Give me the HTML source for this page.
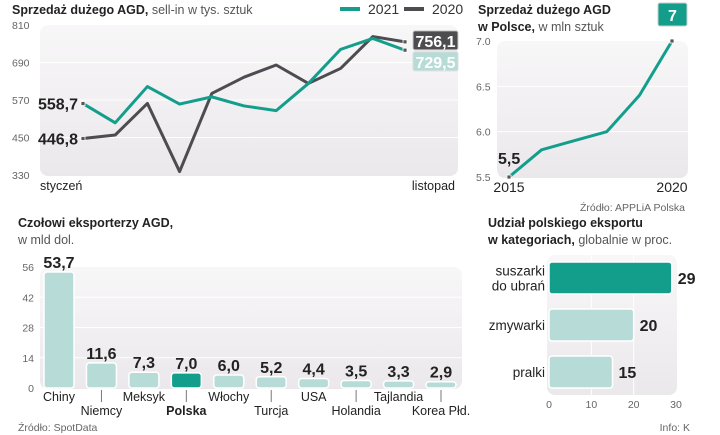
<!DOCTYPE html>
<html><head><meta charset="utf-8"><style>
body{margin:0;background:#fff;}
svg{display:block;font-family:"Liberation Sans Narrow","Liberation Sans",sans-serif;}
.t{fill:#666;font-size:10.5px;}
.h{fill:#222;font-size:12.5px;font-weight:bold;}
.s{fill:#555;font-size:12.5px;font-weight:normal;}
.lab{fill:#222;font-size:12.5px;}
.v{fill:#222;font-size:16px;font-weight:bold;}
</style></head><body>
<svg id="c" width="720" height="435" viewBox="0 0 720 435">
<defs>
<linearGradient id="bg" x1="0" y1="0" x2="0" y2="1"><stop offset="0" stop-color="#f8f7f8"/><stop offset="1" stop-color="#ebe8eb"/></linearGradient>
</defs>
<text x="12" y="14" class="h">Sprzedaż dużego AGD,<tspan class="s"> sell-in w tys. sztuk</tspan></text>
<line x1="340" y1="9" x2="360" y2="9" stroke="#139e8c" stroke-width="4"/>
<text x="368" y="14" style="font-size:14px;fill:#333">2021</text>
<line x1="404" y1="9" x2="424" y2="9" stroke="#4d4c50" stroke-width="4"/>
<text x="432" y="14" style="font-size:14px;fill:#333">2020</text>
<rect x="40" y="25" width="418" height="151" rx="8" fill="url(#bg)"/>
<g id="g1"></g>
<text x="40" y="190" class="lab">styczeń</text>
<text x="455" y="190" class="lab" text-anchor="end">listopad</text>
<text x="478" y="14" class="h">Sprzedaż dużego AGD</text>
<text x="478" y="31" class="h">w Polsce,<tspan class="s"> w mln sztuk</tspan></text>
<rect x="497" y="41" width="191" height="137" rx="8" fill="url(#bg)"/>
<g id="g2"></g>
<text x="509" y="192" class="lab" text-anchor="middle" style="font-size:14px">2015</text>
<text x="672" y="192" class="lab" text-anchor="middle" style="font-size:14px">2020</text>
<text x="685" y="211" class="t" text-anchor="end">Źródło: APPLiA Polska</text>
<text x="18" y="227" class="h">Czołowi eksporterzy AGD,</text>
<text x="18" y="244" class="s">w mld dol.</text>
<rect x="40" y="267" width="422" height="122" rx="8" fill="url(#bg)"/>
<g id="g3"></g>
<text x="18" y="431" class="t">Źródło: SpotData</text>
<text x="488" y="227" class="h">Udział polskiego eksportu</text>
<text x="488" y="244" class="h">w kategoriach,<tspan class="s"> globalnie w proc.</tspan></text>
<rect x="547" y="255" width="130" height="140" rx="8" fill="url(#bg)"/>
<g id="g4"></g>
<text x="690" y="431" class="t" text-anchor="end">Info: K</text>
</svg>
<script>
const months=["I","II","III","IV","V","VI","VII","VIII","IX","X","XI"];
const s2021=[558.7,497,613,557,580,551,536,623,732,767,729.5];
const s2020=[446.8,458,559,341,591,643,682,623,671,773,756.1];
const ticks1=[330,450,570,690,810];
const years=[2015,2016,2017,2018,2019,2020];
const sales=[5.5,5.8,5.9,6.0,6.4,7.0];
const ticks2=[5.5,6.0,6.5,7.0];
const countries=["Chiny","Niemcy","Meksyk","Polska","Włochy","Turcja","USA","Holandia","Tajlandia","Korea Płd."];
const exportsVal=[53.7,11.6,7.3,7.0,6.0,5.2,4.4,3.5,3.3,2.9];
const ticks3=[0,14,28,42,56];
const cats=[["suszarki","do ubrań"],["zmywarki"],["pralki"]];
const shares=[29,20,15];
const ticks4=[0,10,20,30];

const NS="http://www.w3.org/2000/svg";
function mk(p,tag,a,txt){const e=document.createElementNS(NS,tag);for(const k in a)e.setAttribute(k,a[k]);if(txt!==undefined)e.textContent=txt;p.appendChild(e);return e;}
const fmt=v=>String(v).replace('.',',');

(function(){
const g=document.getElementById('g1');
const y=v=>175-(v-330)/(810-330)*150;
const x=i=>83+i*(405-83)/(months.length-1);
ticks1.forEach(t=>{
 if(t>330&&t<810){const l=mk(g,'line',{x1:40,x2:458,y1:y(t),y2:y(t),stroke:'#fff','stroke-width':1});}
 const e=mk(g,'text',{x:12,y:y(t)+4,class:'t'},t);
});
[[s2020,'#4d4c50','line-2020'],[s2021,'#139e8c','line-2021']].forEach(([d,c,n])=>{
 const p=mk(g,'polyline',{points:d.map((v,i)=>x(i)+','+y(v)).join(' '),fill:'none',stroke:c,'stroke-width':3,'stroke-linejoin':'round'});
 
 [0,d.length-1].forEach(i=>{const r=mk(g,'rect',{x:x(i)-2,y:y(d[i])-2,width:4,height:4,fill:'#555',stroke:'#fff','stroke-width':0.8});});
});
const a=mk(g,'text',{x:78,y:y(s2021[0])+6,class:'v','text-anchor':'end'},fmt(s2021[0]));
const b=mk(g,'text',{x:78,y:y(s2020[0])+6,class:'v','text-anchor':'end'},fmt(s2020[0]));
const L=s2020.length-1;
const r1=mk(g,'rect',{x:413,y:y(s2020[L])-11,width:45,height:19,rx:2,fill:'#4d4c50',stroke:'#ccc'});
const t1=mk(g,'text',{x:435.5,y:y(s2020[L])+5,class:'v','text-anchor':'middle',style:'fill:#fff'},fmt(s2020[L]));
const r2=mk(g,'rect',{x:413,y:y(s2020[L])+10,width:45,height:19,rx:2,fill:'#b7dcd8',stroke:'#ddd'});
const t2=mk(g,'text',{x:435.5,y:y(s2020[L])+26,class:'v','text-anchor':'middle',style:'fill:#fff'},fmt(s2021[L]));
})();

(function(){
const g=document.getElementById('g2');
const y=v=>177-(v-5.5)/1.5*136;
const x=i=>509+i*(672-509)/(years.length-1);
ticks2.forEach(t=>{
 if(t>5.5&&t<7){const l=mk(g,'line',{x1:497,x2:688,y1:y(t),y2:y(t),stroke:'#fff'});}
 const e=mk(g,'text',{x:476,y:y(t)+4,class:'t'},t.toFixed(1));
});
const p=mk(g,'polyline',{points:sales.map((v,i)=>x(i)+','+y(v)).join(' '),fill:'none',stroke:'#139e8c','stroke-width':3,'stroke-linejoin':'round'});

[0,sales.length-1].forEach(i=>{const r=mk(g,'rect',{x:x(i)-2,y:y(sales[i])-2,width:4,height:4,fill:'#555',stroke:'#fff','stroke-width':0.8});});
const a=mk(g,'text',{x:498,y:y(sales[0])-13,class:'v'},fmt(sales[0]));
const L=sales.length-1;
const r=mk(g,'rect',{x:x(L)-14,y:y(sales[L])-38,width:29,height:23,rx:2,fill:'#139e8c',stroke:'#ccc'});
const t=mk(g,'text',{x:x(L)+0.5,y:y(sales[L])-20,class:'v','text-anchor':'middle',style:'fill:#fff'},fmt(sales[L]));
})();

(function(){
const g=document.getElementById('g3');
const y=v=>388-v/56*121;
const x=i=>59+i*(441-59)/(countries.length-1);
ticks3.forEach(t=>{
 if(t>0&&t<56){const l=mk(g,'line',{x1:40,x2:462,y1:y(t),y2:y(t),stroke:'#fff'});}
 const e=mk(g,'text',{x:34,y:y(t)+4,class:'t','text-anchor':'end'},t);
});
exportsVal.forEach((v,i)=>{
 const pl=countries[i]==='Polska';
 const r=mk(g,'rect',{x:x(i)-15,y:y(v),width:30,height:388-y(v),rx:3,fill:pl?'#139e8c':'#b7dcd8',stroke:'#fff','stroke-width':1.5});
 
 const t=mk(g,'text',{x:x(i),y:y(v)-4,class:'v','text-anchor':'middle'},fmt(v.toFixed(1)));
 
 const low=i%2===1;
 if(low){const l=mk(g,'line',{x1:x(i),x2:x(i),y1:390,y2:402,stroke:'#777'});}
 const c=mk(g,'text',{x:x(i),y:low?415:401,class:'lab','text-anchor':'middle',style:pl?'font-weight:bold':''},countries[i]);
 
});
})();

(function(){
const g=document.getElementById('g4');
const x=v=>549+v/30*127;
ticks4.forEach(t=>{
 if(t>0&&t<30){const l=mk(g,'line',{x1:x(t),x2:x(t),y1:255,y2:395,stroke:'#fff'});}
 const e=mk(g,'text',{x:x(t),y:408,class:'t','text-anchor':'middle'},t);
});
shares.forEach((v,i)=>{
 const yc=278+i*47;
 const r=mk(g,'rect',{x:549,y:yc-16,width:x(v)-549,height:32,rx:3,fill:i===0?'#139e8c':'#b7dcd8',stroke:'#fff','stroke-width':1.5});
 
 const t=mk(g,'text',{x:x(v)+6,y:yc+6,class:'v'},v);
 cats[i].forEach((s,j)=>{
  const c=mk(g,'text',{x:545,y:yc+5+(j-(cats[i].length-1)/2)*15,class:'lab','text-anchor':'end',style:'font-size:13.5px'},s);
  
 });
});
})();
</script>
</body></html>
